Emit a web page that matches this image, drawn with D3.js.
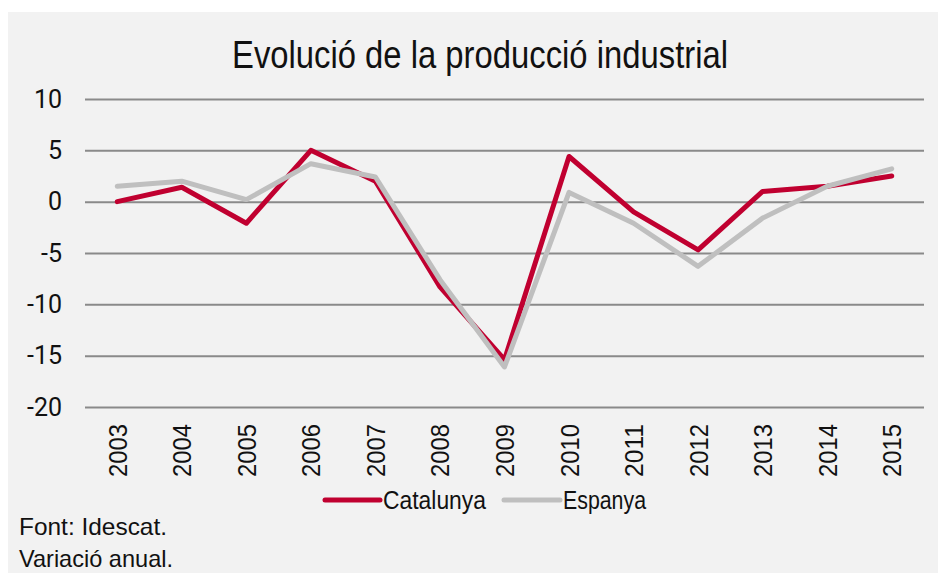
<!DOCTYPE html>
<html><head><meta charset="utf-8">
<script src="https://cdn.jsdelivr.net/npm/d3@7"></script>
<style>body{margin:0;background:#fff}svg{display:block}</style>
</head><body><svg id="c" width="938" height="573"></svg>
<script>
const years = ["2003","2004","2005","2006","2007","2008","2009","2010","2011","2012","2013","2014","2015"];
const catalunya = [0.0, 1.4, -2.1, 5.0, 2.0, -8.3, -15.4, 4.4, -1.0, -4.7, 1.0, 1.5, 2.5];
const espanya = [1.5, 2.0, 0.2, 3.7, 2.4, -7.6, -16.1, 0.9, -2.1, -6.3, -1.6, 1.5, 3.2];
const yTicks = [10, 5, 0, -5, -10, -15, -20];
const seriesNames = ["Catalunya", "Espanya"];
const colors = ["#c00030", "#bfbfbf"];
const title = "Evolució de la producció industrial";
const notes = ["Font: Idescat.", "Variació anual."];

const svg = d3.select("#c");
svg.append("rect").attr("x",8).attr("y",12).attr("width",930).attr("height",561).attr("fill","#f2f2f2");

const font = "'Liberation Sans', Arial, sans-serif";
const x = d3.scaleBand().domain(years).range([85, 924]);
const y = d3.scaleLinear().domain([-20, 10]).range([407, 99]);

svg.append("text").attr("x", 232).attr("y", 68)
  .attr("font-family", font).attr("font-size", 39).attr("fill","#111")
  .attr("textLength", 496).attr("lengthAdjust","spacingAndGlyphs").text(title);

// gridlines
const yAxis = d3.axisLeft(y).tickValues(yTicks).tickSize(-(924-85)).tickPadding(23).tickFormat(d3.format("d"));
const gy = svg.append("g").attr("transform","translate(85,0)").call(yAxis);
gy.select(".domain").remove();
gy.selectAll(".tick line").attr("stroke","#8a8a8a").attr("stroke-width",2);
gy.selectAll(".tick text").attr("font-family","Roboto, sans-serif").attr("font-size",25).attr("fill","#111")
  .text(d => d < 0 ? "-" + Math.abs(d) : d);

// x labels
const xAxis = d3.axisBottom(x).tickSize(0).tickPadding(0);
const gx = svg.append("g").attr("transform","translate(0,420)").call(xAxis);
gx.select(".domain").remove();
gx.selectAll(".tick text").attr("font-family", font).attr("font-size",26).attr("fill","#111")
  .attr("text-anchor","end").attr("dy", 0).attr("x", -4).attr("y", 9.5)
  .attr("textLength", 53).attr("lengthAdjust","spacingAndGlyphs")
  .attr("transform","rotate(-90)");

const line = d3.line().x((d,i) => x(years[i]) + x.bandwidth()/2).y(d => y(d));
[[catalunya, colors[0]], [espanya, colors[1]]].forEach(([s, c]) => {
  svg.append("path").datum(s).attr("d", line).attr("fill","none")
    .attr("stroke", c).attr("stroke-width", 5).attr("stroke-linejoin","round").attr("stroke-linecap","round");
});

// legend
const legend = [{name: seriesNames[0], c: colors[0], x1: 325, x2: 380, tx: 383, w: 103},
                {name: seriesNames[1], c: colors[1], x1: 504, x2: 560, tx: 563, w: 83}];
legend.forEach(l => {
  svg.append("line").attr("x1", l.x1).attr("x2", l.x2).attr("y1", 500).attr("y2", 500)
    .attr("stroke", l.c).attr("stroke-width", 5).attr("stroke-linecap","round");
  svg.append("text").attr("x", l.tx).attr("y", 509).attr("font-family", font)
    .attr("font-size", 25).attr("fill","#111")
    .attr("textLength", l.w).attr("lengthAdjust","spacingAndGlyphs").text(l.name);
});
const noteW = [148, 154];
notes.forEach((n, i) => {
  svg.append("text").attr("x", 19).attr("y", 535 + i*32).attr("font-family", font)
    .attr("font-size", 24).attr("fill","#111")
    .attr("textLength", noteW[i]).attr("lengthAdjust","spacingAndGlyphs").text(n);
});
</script></body></html>
